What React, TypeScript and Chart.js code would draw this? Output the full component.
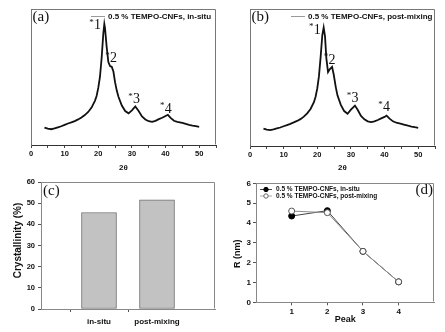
import React, { useEffect, useRef } from 'react';
import { Chart, registerables } from 'chart.js';

Chart.register(...registerables);

// ---------- Data ----------
// (a) XRD pattern, 0.5 % TEMPO-CNFs, in-situ (2θ, intensity a.u.)
const xrdAnglesInSitu = [4, 5, 6, 7, 8, 9, 10, 11, 12, 13, 14, 15, 16, 17, 18, 19, 19.5, 20, 20.5, 21, 21.5, 21.8, 22, 22.5, 23, 23.5, 24, 24.5, 25, 25.5, 26, 27, 28, 29, 30, 31, 32, 33, 34, 35, 36, 37, 38, 39, 40, 40.7, 41.5, 42.5, 43.5, 45, 46, 47, 48, 49, 50];
const xrdInSitu = [12.8, 12.0, 11.6, 12.2, 13.0, 13.8, 14.8, 15.8, 16.6, 17.6, 18.8, 20.2, 22.0, 24.3, 27.5, 32.5, 36, 42, 50, 64, 82, 89, 86, 72, 61, 58, 57.5, 54, 46, 40, 35.5, 29, 25, 23.3, 25.5, 28.3, 25, 21, 18.8, 17.5, 17, 17.8, 19, 20, 21.3, 22.2, 20, 17.8, 17, 16.2, 15.5, 14.8, 14.2, 13.8, 13.4];
// (b) XRD pattern, 0.5 % TEMPO-CNFs, post-mixing
const xrdAnglesPost = [4, 5, 6, 7, 8, 9, 10, 11, 12, 13, 14, 15, 16, 17, 18, 19, 19.5, 20, 20.5, 21, 21.5, 21.9, 22.3, 22.7, 23.2, 23.7, 24.4, 24.9, 25.5, 26, 27, 28, 29, 30, 31.2, 32, 33, 34, 35, 36, 37, 38, 39, 40, 40.6, 41.5, 42.5, 43.5, 45, 46, 47, 48, 49, 50];
const xrdPostMixing = [12.7, 12.0, 11.6, 12.1, 12.8, 13.5, 14.4, 15.3, 16.2, 17.2, 18.3, 19.6, 21.4, 23.8, 27, 32, 36, 42, 51, 65, 81, 86.5, 80, 64, 54, 56, 57.8, 52, 43, 37, 30, 25.5, 23.5, 26.5, 29.5, 26.5, 22, 19.5, 18, 17.5, 18, 19, 20.2, 21.2, 22.2, 20, 18, 17, 16.2, 15.5, 14.8, 14.2, 13.7, 13.3];
// Peak markers (label, 2θ, level)
const peakMarkLabels = ['1', '2', '3', '4'];
const peakMarkAnglesA = [19.8, 24.5, 31.4, 40.8];
const peakMarkLevelsA = [87.7, 63.7, 33.6, 26.5];
const peakMarkAnglesB = [20.0, 24.4, 31.2, 40.6];
const peakMarkLevelsB = [84.7, 62.8, 34.8, 28.2];
const xrdTickLabels = [0, 10, 20, 30, 40, 50];

// (c) Crystallinity
const crystCategories = ['', 'in-situ', 'post-mixing', ''];
const crystValues = [null, 45.6, 51.6, null];

// (d) Crystallite size R per peak
const peaks = [1, 2, 3, 4];
const rInSitu = [4.35, 4.62, 2.57, 1.03];
const rPostMixing = [4.6, 4.52, 2.57, 1.03];

// ---------- Styling helpers ----------
const SANS = "'Liberation Sans', Arial, sans-serif";
const SERIF = "'Liberation Serif', 'Times New Roman', serif";

function framePlugin(color: string) {
  return {
    id: 'frame',
    afterDraw(chart: any) {
      const { ctx, chartArea: a } = chart;
      ctx.save();
      ctx.strokeStyle = color;
      ctx.lineWidth = 1;
      const l = Math.round(a.left) + 0.5;
      const t = Math.round(a.top) + 0.5;
      const r = Math.round(a.right) - 0.5;
      const b = Math.round(a.bottom) - 0.5;
      ctx.beginPath();
      ctx.moveTo(l, b);
      ctx.lineTo(l, t);
      ctx.lineTo(r, t);
      ctx.lineTo(r, b);
      ctx.stroke();
      ctx.restore();
    },
  };
}

function text(ctx: any, s: string, x: number, y: number, font: string, color = '#111', align = 'left', rotate = 0) {
  ctx.save();
  ctx.translate(x, y);
  if (rotate) ctx.rotate(rotate);
  ctx.font = font;
  ctx.fillStyle = color;
  ctx.textAlign = align;
  ctx.textBaseline = 'middle';
  ctx.fillText(s, 0, 0);
  ctx.restore();
}

function xrdAnnotPlugin(panel: string, legend: string, legendLineX: number, angles: number[], levels: number[]) {
  return {
    id: 'xrdAnnot',
    afterDraw(chart: any) {
      const { ctx, scales } = chart;
      text(ctx, panel, chart.chartArea.left + 1.5, 17, `15px ${SERIF}`);
      ctx.save();
      ctx.strokeStyle = '#9a9a9a';
      ctx.lineWidth = 1;
      ctx.beginPath();
      ctx.moveTo(legendLineX, 16.5);
      ctx.lineTo(legendLineX + 14, 16.5);
      ctx.stroke();
      ctx.restore();
      text(ctx, legend, legendLineX + 17, 16.5, `bold 8px ${SANS}`);
      peakMarkLabels.forEach((lab, i) => {
        const px = scales.x.getPixelForValue(angles[i]);
        const py = scales.y.getPixelForValue(levels[i]);
        text(ctx, lab, px, py, `14px ${SERIF}`, '#111', 'center');
        text(ctx, '*', px - 6, py - 3, `9px ${SERIF}`, '#111', 'center');
      });
    },
  };
}

function xrdConfig(angles: number[], values: number[], opts: any) {
  return {
    type: 'line',
    data: {
      datasets: [
        {
          data: angles.map((a, i) => ({ x: a, y: values[i] })),
          borderColor: '#111',
          borderWidth: 1.8,
          pointRadius: 0,
          tension: 0,
        },
      ],
    },
    options: {
      animation: false,
      responsive: false,
      devicePixelRatio: 1,
      layout: { padding: { left: 0, top: 9, right: opts.padRight, bottom: 0 } },
      plugins: { legend: { display: false }, tooltip: { enabled: false } },
      scales: {
        x: {
          type: 'linear',
          min: 0,
          max: 55,
          ticks: {
            stepSize: 5,
            autoSkip: false,
            maxRotation: 0,
            padding: 1,
            color: '#111',
            font: { family: SANS, size: 7.5, weight: 'bold' },
            callback: (v: number) => (xrdTickLabels.includes(v) ? String(v) : ''),
          },
          grid: { drawOnChartArea: false, tickLength: 3, color: '#444' },
          border: { color: '#333' },
          title: {
            display: true,
            text: '2θ',
            color: '#111',
            font: { family: SANS, size: 8, weight: 'bold' },
            padding: { top: 0, bottom: 2.5 },
          },
          afterFit: (s: any) => {
            s.height = opts.xHeight;
          },
        },
        y: {
          min: 0,
          max: 100,
          ticks: { display: false },
          grid: { display: false },
          border: { display: true, color: '#666' },
          afterFit: (s: any) => {
            s.width = opts.yWidth;
          },
        },
      },
    },
    plugins: [framePlugin('#777'), xrdAnnotPlugin(opts.panel, opts.legend, opts.legendX, opts.markAngles, opts.markLevels)],
  };
}

function crystConfig() {
  return {
    type: 'bar',
    data: {
      labels: crystCategories,
      datasets: [
        {
          data: crystValues,
          backgroundColor: '#c2c2c2',
          borderColor: '#6f6f6f',
          borderWidth: 1,
          borderSkipped: false,
          barThickness: 35,
        },
      ],
    },
    options: {
      animation: false,
      responsive: false,
      devicePixelRatio: 1,
      layout: { padding: { left: 0, top: 12, right: 7, bottom: 0 } },
      plugins: { legend: { display: false }, tooltip: { enabled: false } },
      scales: {
        x: {
          offset: false,
          ticks: {
            autoSkip: false,
            maxRotation: 0,
            padding: 5,
            color: '#111',
            font: { family: SANS, size: 8, weight: 'bold' },
          },
          grid: {
            drawOnChartArea: false,
            tickLength: 3,
            color: (c: any) => (c.index === 1 || c.index === 2 ? '#555' : 'rgba(0,0,0,0)'),
          },
          border: { color: '#888' },
          afterFit: (s: any) => {
            s.height = 23;
          },
        },
        y: {
          min: 0,
          max: 60,
          ticks: {
            stepSize: 10,
            padding: 3,
            color: '#111',
            font: { family: SANS, size: 7.5, weight: 'bold' },
          },
          grid: { drawOnChartArea: false, tickLength: 3, color: '#555' },
          border: { color: '#888' },
          afterFit: (s: any) => {
            s.width = 41;
          },
        },
      },
    },
    plugins: [
      framePlugin('#888'),
      {
        id: 'crystText',
        afterDraw(chart: any) {
          const { ctx } = chart;
          text(ctx, '(c)', 43, 20.7, `15px ${SERIF}`);
          text(ctx, 'Crystallinity (%)', 18, 70.5, `bold 10px ${SANS}`, '#111', 'center', -Math.PI / 2);
        },
      },
    ],
  };
}

function sizeConfig() {
  return {
    type: 'line',
    data: {
      datasets: [
        {
          label: '0.5 % TEMPO-CNFs, post-mixing',
          data: peaks.map((p, i) => ({ x: p, y: rPostMixing[i] })),
          borderColor: '#8c8c8c',
          borderWidth: 1,
          pointRadius: 3,
          pointBackgroundColor: '#ffffff',
          pointBorderColor: '#555',
          pointBorderWidth: 1,
          tension: 0,
          order: 0,
        },
        {
          label: '0.5 % TEMPO-CNFs, in-situ',
          data: peaks.map((p, i) => ({ x: p, y: rInSitu[i] })),
          borderColor: '#444',
          borderWidth: 1,
          pointRadius: 3,
          pointBackgroundColor: '#000',
          pointBorderColor: '#000',
          pointBorderWidth: 1,
          tension: 0,
          order: 1,
        },
      ],
    },
    options: {
      animation: false,
      responsive: false,
      devicePixelRatio: 1,
      layout: { padding: { left: 0, top: 13.3, right: 10.7, bottom: 0 } },
      plugins: { legend: { display: false }, tooltip: { enabled: false } },
      scales: {
        x: {
          type: 'linear',
          min: 0,
          max: 5,
          ticks: {
            stepSize: 1,
            autoSkip: false,
            maxRotation: 0,
            padding: 2,
            color: '#111',
            font: { family: SANS, size: 8, weight: 'bold' },
            callback: (v: number) => (peaks.includes(v) ? String(v) : ''),
          },
          grid: {
            drawOnChartArea: false,
            tickLength: 3,
            color: (c: any) => (c.tick && peaks.includes(c.tick.value) ? '#555' : 'rgba(0,0,0,0)'),
          },
          border: { color: '#888' },
          title: {
            display: true,
            text: 'Peak',
            color: '#111',
            font: { family: SANS, size: 9, weight: 'bold' },
            padding: { top: 0, bottom: 6.6 },
          },
          afterFit: (s: any) => {
            s.height = 29.7;
          },
        },
        y: {
          min: 0,
          max: 6,
          ticks: {
            stepSize: 1,
            padding: 2,
            color: '#111',
            font: { family: SANS, size: 8, weight: 'bold' },
          },
          grid: { drawOnChartArea: false, tickLength: 3, color: '#555' },
          border: { color: '#888' },
          afterFit: (s: any) => {
            s.width = 34;
          },
        },
      },
    },
    plugins: [
      framePlugin('#888'),
      {
        id: 'sizeText',
        afterDraw(chart: any) {
          const { ctx } = chart;
          text(ctx, '(d)', 211, 20.3, `15px ${SERIF}`, '#111', 'right');
          text(ctx, 'R (nm)', 16, 83.7, `bold 9px ${SANS}`, '#111', 'center', -Math.PI / 2);
          const rows = [
            { y: 19.5, line: '#444', fill: '#000', stroke: '#000', label: chart.data.datasets[1].label },
            { y: 26, line: '#aaa', fill: '#fff', stroke: '#666', label: chart.data.datasets[0].label },
          ];
          rows.forEach((r) => {
            ctx.save();
            ctx.strokeStyle = r.line;
            ctx.lineWidth = 1;
            ctx.beginPath();
            ctx.moveTo(38, r.y);
            ctx.lineTo(50, r.y);
            ctx.stroke();
            ctx.beginPath();
            ctx.arc(44, r.y, 2.2, 0, Math.PI * 2);
            ctx.fillStyle = r.fill;
            ctx.fill();
            ctx.strokeStyle = r.stroke;
            ctx.stroke();
            ctx.restore();
            text(ctx, r.label, 54, r.y, `bold 6.5px ${SANS}`);
          });
        },
      },
    ],
  };
}

// ---------- Components ----------
function ChartCanvas({ left, top, width, height, make }: { left: number; top: number; width: number; height: number; make: () => any }) {
  const ref = useRef<HTMLCanvasElement>(null);
  useEffect(() => {
    const chart = new Chart(ref.current as HTMLCanvasElement, make());
    return () => chart.destroy();
  }, []);
  return <canvas ref={ref} width={width} height={height} style={{ position: 'absolute', left, top, width, height }} />;
}

export default function App() {
  return (
    <div style={{ position: 'fixed', left: 0, top: 0, width: 445, height: 332, background: '#fff', overflow: 'hidden' }}>
      <ChartCanvas
        left={0}
        top={0}
        width={222}
        height={175}
        make={() =>
          xrdConfig(xrdAnglesInSitu, xrdInSitu, {
            padRight: 6,
            xHeight: 30,
            yWidth: 31,
            panel: '(a)',
            legend: '0.5 % TEMPO-CNFs, in-situ',
            legendX: 91,
            markAngles: peakMarkAnglesA,
            markLevels: peakMarkLevelsA,
          })
        }
      />
      <ChartCanvas
        left={222}
        top={0}
        width={223}
        height={175}
        make={() =>
          xrdConfig(xrdAnglesPost, xrdPostMixing, {
            padRight: 10,
            xHeight: 29,
            yWidth: 28,
            panel: '(b)',
            legend: '0.5 % TEMPO-CNFs, post-mixing',
            legendX: 69,
            markAngles: peakMarkAnglesB,
            markLevels: peakMarkLevelsB,
          })
        }
      />
      <ChartCanvas left={0} top={170} width={222} height={162} make={crystConfig} />
      <ChartCanvas left={222} top={170} width={223} height={162} make={sizeConfig} />
    </div>
  );
}
